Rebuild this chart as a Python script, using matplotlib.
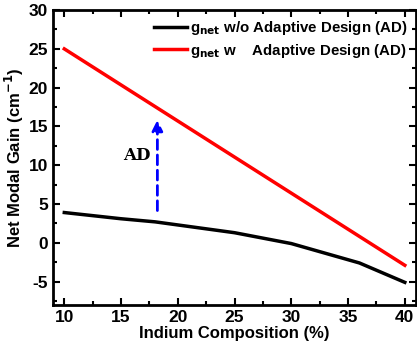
import matplotlib.pyplot as plt
from matplotlib.ticker import MultipleLocator

# datos
indium = [10, 15, 18, 20, 25, 30, 36, 40]
gain_sin_ad = [3.9, 3.1, 2.7, 2.3, 1.3, -0.1, -2.6, -5.1]
indium_ad = [10, 40]
gain_con_ad = [25.0, -2.9]

plt.rcParams['font.family'] = ['Liberation Sans', 'DejaVu Sans']
plt.rcParams['font.weight'] = 'bold'
plt.rcParams['mathtext.default'] = 'bf'
plt.rcParams['axes.unicode_minus'] = False

fig = plt.figure(figsize=(4.17, 3.48), dpi=100)
ax = fig.add_axes([0.127, 0.124, 0.871, 0.847])

ax.plot(indium, gain_sin_ad, color='black', lw=2.5,
        label=r'g$_{net}$ w/o Adaptive Design (AD)')
ax.plot(indium_ad, gain_con_ad, color='red', lw=2.5,
        label=r'g$_{net}$ w    Adaptive Design (AD)')

# flecha AD
ax.annotate('', xy=(18.2, 16.2), xytext=(18.2, 3.8),
            arrowprops=dict(arrowstyle='-|>', color='blue', lw=2,
                            linestyle=(0, (3.5, 2)), mutation_scale=16))
ax.text(16.4, 11.2, 'AD', family='DejaVu Serif', fontweight='bold',
        fontsize=12, ha='center', va='center')

ax.set_xlim(9, 41)
ax.set_ylim(-8, 30)
ax.xaxis.set_major_locator(MultipleLocator(5))
ax.xaxis.set_minor_locator(MultipleLocator(2.5))
ax.yaxis.set_major_locator(MultipleLocator(5))
ax.yaxis.set_minor_locator(MultipleLocator(2.5))
ax.tick_params(which='both', direction='in', top=True, right=True,
               width=1.5, labelsize=12.5)
ax.tick_params(which='major', length=5)
ax.tick_params(which='minor', length=3)
for s in ax.spines.values():
    s.set_linewidth(2)

ax.set_xlabel('Indium Composition (%)', fontsize=12, fontweight='bold', labelpad=1)
ax.set_ylabel('Net Modal Gain (cm$^{-1}$)', fontsize=12, fontweight='bold', labelpad=2)

ax.legend(loc='upper right', frameon=False, fontsize=10.8, handlelength=2.2,
          handletextpad=0.2, borderaxespad=0.2, labelspacing=0.3)

fig.savefig('out.png', dpi=100)
